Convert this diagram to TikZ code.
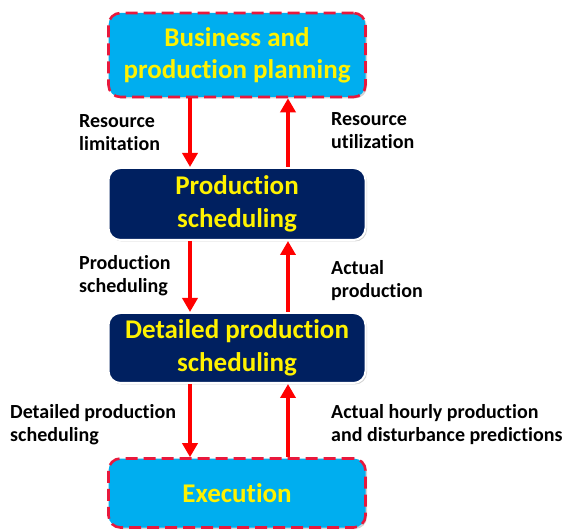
\documentclass[tikz,border=0pt]{standalone}
\usepackage{fontspec}
\setmainfont[Ligatures={NoCommon}]{Carlito}
\usetikzlibrary{shapes,arrows.meta,shadows}

\definecolor{lightcyan}{RGB}{0,174,239}
\definecolor{navybox}{RGB}{0,32,96}
\definecolor{dashred}{RGB}{232,24,60}

\tikzset{
  outer/.style={rectangle,rounded corners=12pt,fill=lightcyan,draw=dashred,
    line width=2.6pt,dash pattern=on 12pt off 6pt,minimum width=257pt,
    align=center,text=yellow,font=\fontsize{27}{32}\selectfont\bfseries,
    drop shadow={opacity=0.35,shadow xshift=1.5pt,shadow yshift=-1.5pt}},
  inner/.style={rectangle,rounded corners=12pt,fill=navybox,draw=white,
    line width=2pt,minimum width=257pt,
    align=center,text=yellow,font=\fontsize{27}{33}\selectfont\bfseries,
    drop shadow={opacity=0.35,shadow xshift=1.5pt,shadow yshift=-1.5pt}},
  flowlabel/.style={align=left,anchor=north west,inner sep=0pt,
    font=\fontsize{20}{23.5}\selectfont\bfseries},
  flow/.style={red,line width=3.8pt,-{Triangle[width=15pt,length=14pt]}}
}

\begin{document}
\begin{tikzpicture}[x=1pt,y=-1pt]
        \useasboundingbox (0,0) rectangle (566,532);

        \node[outer,minimum height=84pt] (plan) at (237,55) {Business and\\production planning};
        \node[inner,minimum height=72pt] (sched) at (237,204) {Production\\scheduling};
        \node[inner,minimum height=70pt] (detail) at (237,348) {Detailed production\\scheduling};
        \node[outer,minimum height=69pt] (exec) at (237,493) {Execution};

        \node[flowlabel] (limit) at (79,114) {Resource\\limitation};
        \node[flowlabel] (usage) at (331,112) {Resource\\utilization};
        \node[flowlabel] (prodsched) at (79,255) {Production\\scheduling};
        \node[flowlabel] (actual) at (331,260) {Actual\\production};
        \node[flowlabel] (detsched) at (10,404) {Detailed production\\scheduling};
        \node[flowlabel] (hourly) at (331,404) {Actual hourly production\\and disturbance predictions};

        \draw[flow] ([xshift=-47pt]plan.south) to ([xshift=-47pt]sched.north);
        \draw[flow] ([xshift=51pt]sched.north) to ([xshift=51pt]plan.south);

        \draw[flow] ([xshift=-47pt]sched.south) to ([xshift=-47pt]detail.north);
        \draw[flow] ([xshift=51pt]detail.north) to ([xshift=51pt]sched.south);

        \draw[flow] ([xshift=-47pt]detail.south) to ([xshift=-47pt]exec.north);
        \draw[flow] ([xshift=51pt]exec.north) to ([xshift=51pt]detail.south);

    \end{tikzpicture}
\end{document}
